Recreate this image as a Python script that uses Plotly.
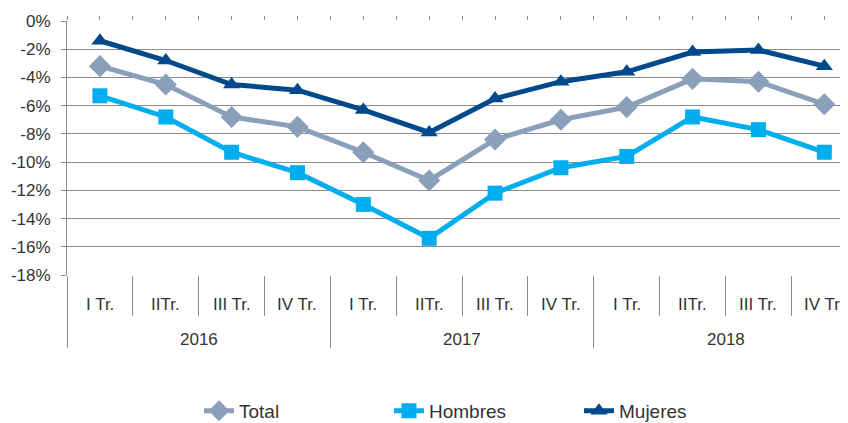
import plotly.graph_objects as go

quarters = ["I Tr.", "IITr.", "III Tr.", "IV Tr.",
            "I Tr.", "IITr.", "III Tr.", "IV Tr.",
            "I Tr.", "IITr.", "III Tr.", "IV Tr."]
years = ["2016", "2017", "2018"]

total = [-3.2, -4.5, -6.8, -7.5, -9.3, -11.3, -8.4, -7.0, -6.1, -4.1, -4.3, -5.9]
hombres = [-5.3, -6.8, -9.3, -10.75, -13.0, -15.4, -12.2, -10.4, -9.6, -6.8, -7.7, -9.3]
mujeres = [-1.4, -2.8, -4.5, -4.9, -6.3, -7.9, -5.5, -4.3, -3.6, -2.2, -2.05, -3.2]

y_ticks = [0, -2, -4, -6, -8, -10, -12, -14, -16, -18]
y_labels = [f"{v}%" for v in y_ticks]

FONT = "Liberation Sans, Arial, sans-serif"
TXT = "#333333"
GRID = "#8c8c8c"

idx = list(range(len(quarters)))
xr = [-0.5, 11.36]

# page body has an 8px margin: the figure is 8px smaller and margins compensate
W, H = 840, 415
ML, MT, MB = 59, 13, 148

fig = go.Figure()
fig.add_trace(go.Scatter(x=idx, y=total, name="Total", mode="lines+markers",
                         line=dict(color="#8a9fba", width=5),
                         marker=dict(symbol="diamond", size=17, color="#8a9fba")))
fig.add_trace(go.Scatter(x=idx, y=hombres, name="Hombres", mode="lines+markers",
                         line=dict(color="#00aeef", width=5),
                         marker=dict(symbol="square", size=15, color="#00aeef")))
fig.add_trace(go.Scatter(x=idx, y=mujeres, name="Mujeres", mode="lines+markers",
                         line=dict(color="#004a8b", width=5),
                         marker=dict(symbol="triangle-up", size=15, color="#004a8b")))

# helper invisible traces for extra axes
fig.add_trace(go.Scatter(x=[None], y=[None], xaxis="x2", showlegend=False, hoverinfo="skip"))
fig.add_trace(go.Scatter(x=[None], y=[None], xaxis="x3", showlegend=False, hoverinfo="skip"))

n = len(quarters)
bounds = [i - 0.5 for i in range(n + 1)]
year_bounds = [i * 4 - 0.5 for i in range(len(years) + 1)]
halves = [i * 0.5 - 0.5 for i in range(2 * n + 1)]

common_x = dict(range=xr, tickmode="array", tickcolor=GRID, tickwidth=1,
                showticklabels=False, showgrid=False, zeroline=False,
                showline=False, automargin=False, ticks="outside")

fig.update_layout(
    width=W, height=H,
    margin=dict(l=ML, r=0, t=MT, b=MB, autoexpand=False),
    paper_bgcolor="white", plot_bgcolor="white",
    font=dict(family=FONT, size=17, color=TXT),
    xaxis=dict(tickvals=bounds, ticklen=40, **common_x),
    xaxis2=dict(overlaying="x", side="bottom", tickvals=year_bounds, ticklen=72,
                **common_x),
    xaxis3=dict(overlaying="x", side="top", tickvals=halves, ticklen=4, **common_x),
    yaxis=dict(range=[-18, 0], tickmode="array", tickvals=y_ticks, ticktext=y_labels,
               ticks="outside", ticklen=5, tickcolor=GRID, showgrid=True,
               gridcolor=GRID, gridwidth=1, zeroline=False, showline=True,
               linecolor=GRID, linewidth=1, automargin=False, ticklabelstandoff=7,
               tickfont=dict(size=17, color=TXT)),
    legend=dict(orientation="h", x=0.169, xanchor="left", y=-0.535, yanchor="middle",
                font=dict(size=19, color=TXT), entrywidth=145, entrywidthmode="pixels"),
    showlegend=True,
)

annotations = []
for i, q in enumerate(quarters):
    annotations.append(dict(x=i, y=-0.118, xref="x", yref="paper", text=q,
                            showarrow=False, yanchor="middle",
                            font=dict(size=17, color=TXT)))
for k, yr in enumerate(years):
    annotations.append(dict(x=k * 4 + 1.5, y=-0.252, xref="x", yref="paper", text=yr,
                            showarrow=False, yanchor="middle",
                            font=dict(size=17, color=TXT)))
fig.update_layout(annotations=annotations)

fig.write_html("out.html")
